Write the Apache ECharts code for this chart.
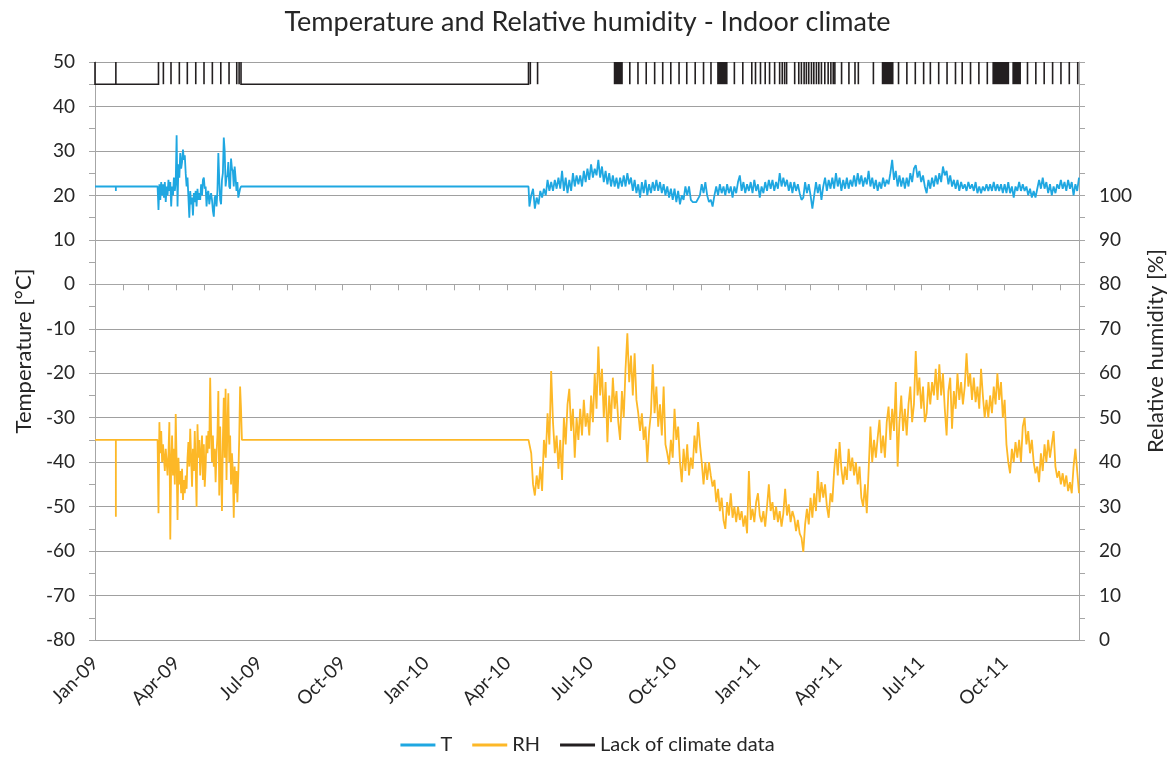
<!DOCTYPE html>
<html><head><meta charset="utf-8">
<script src="https://cdn.jsdelivr.net/npm/echarts@6/dist/echarts.min.js"></script>
<style>html,body{margin:0;padding:0;background:#fff}#c{width:1175px;height:761px}</style>
</head><body><div id="c"></div>
<script>
// ---------- data ----------
const ORIGIN_DATE = '2009-01-01';
const AXIS_END = '2011-12-22';
const xTickLabels = ['Jan-09','Apr-09','Jul-09','Oct-09','Jan-10','Apr-10','Jul-10','Oct-10','Jan-11','Apr-11','Jul-11','Oct-11'];
const xTickDates  = ['2009-01-01','2009-04-01','2009-07-01','2009-10-01','2010-01-01','2010-04-01','2010-07-01','2010-10-01','2011-01-01','2011-04-01','2011-07-01','2011-10-01'];

// constant levels shown where the logger had no data
const T_FILL = 22, RH_FILL = 45;
const DIP_DATE = '2009-01-24', T_DIP = 21, RH_DIP = 27.7;

// segment 1: daily values from 2009-03-12
const SEG1_START = '2009-03-12', SEG1_STEP = 1;
const T_2009 = [16.7,22.5,19,23,20,22.5,19.5,23,18.5,22, 20,23.5,21,23,17.5,22,20,24,21,23,
 33.5,17.5,27,24,29.5,26,27.5,30.3,28,29, 25,22,24,19.5,15,21,18,19.5,15.5,20.5,
 18.5,21,17.5,21.5,19,20.5,19,22.5,20,23.5, 24,21.5,22,17.5,20.5,21,18,19.5,20.5,19,
 16.5,15.2,19.5,20,17.5,21,29.5,23.5,19,18, 23.5,25,33,30,22,24,24.5,27.5,22,21.5,
 28.3,26,25.5,22,26.5,24,21,23,19.5,19.5, 21.5,22];
const RH_2009 = [28.5,49,42,47,40,44,41,38,43,40, 37,42,49,22.6,40,46,37,43,35,50.8,
 40,27,41,35,38,33,38.5,31.5,36,33, 37,34,41,44.5,39,47.5,41,34.5,43,38,
 47,39,30,48.5,41,45,37,42,46,36, 44,34.5,39,46,42,47,43,59,47,40,
 46,39,43,35.5,42,46,56,32.5,48,38, 29,45,54.5,41,56.5,36,48,55.5,40,46,
 35,42,38,27.5,39,33,38,31,37,45, 57,52];

// segment 2: values every 2 days from 2010-04-25
const SEG2_START = '2010-04-25', SEG2_STEP = 2;
const T_1011 = [17.5,20,21.5,17,19.5,18,21,19.5,21.5,20,
 23.5,21,23,21,23.5,21.5,24,21.5,25.5,21, 24,20.5,23.5,21,25,22,24.5,22.5,24.5,22,
 25.5,23,26,23.5,27,24,26,24.5,28,24, 26.5,23,25.5,22.5,25,22,24.5,22,24,21.5,
 24,22,24.5,22,25,22.5,24,21,23.5,20.5, 22.5,19.5,23,20.5,23.5,20,22.5,20.5,23,21,
 23.5,21,23,20.5,22.5,20,22,19.5,21.5,19, 21.5,18.5,21,18,20,19,22,20,22,19,
 18.5,18.5,18.5,18.5,20,22.5,20.5,23,20,18.5, 19,17.5,20,22,20,22.5,20.5,22,20,22.5,
 20.5,22,19.5,22,20.5,23,24.5,21,23,20.5, 22.5,21,23,20.5,23.5,21,22.5,19.5,22,20.5,
 23,21,23.5,21.5,23.5,21,23,21.5,25,22, 24,22,23.5,21,23,20.5,23,21,22.5,20.5,
 19,19.5,23,20.5,22.5,20,17,20,23,20.5, 22.5,19,22,24,21,23.5,21.5,24,21.5,25,
 22,24,21,23.5,21.5,24,21.5,23.5,22,24.5, 22,25,22.5,24.5,22,24,22.5,25.5,22,24,
 21.5,23.5,21,23,21.5,24,22,23.5,22.5,25, 28,23.5,25.5,22,24.5,22,24,21.5,24,22,
 25,23,26,26.8,24,25.5,23,24.5,22,20.5, 23.5,21.5,24,22,24.5,22.5,25,23,26.5,24.5,
 25.5,22.5,24.5,22,23.5,21.5,23.5,21,23,21.5, 22.5,21,23,21.5,22.5,21,23,20.5,22,20.5,
 22,21,22.5,21,22.5,21,23,21,22.5,21, 22.5,20.5,22.5,20.5,23,20.5,22,19.5,22,21,
 23,21,22.5,21,22,20,21.5,19.5,21,19.5, 21.5,23.5,21.5,24,21.5,23,20.5,22.5,20,22,
 20.5,22.5,21.5,23.5,21.5,23,21,23.5,21.5,23, 20,22.5,21,24];
const RH_1011 = [45,42,35,32.5,37,34,39,33.5,45,41,
 51,44,60.5,49,42,46,38.5,45,36,50, 44,53,56.5,47,52,41,50,45,52,46,
 54,48,51,46,55,49,60,52,66,55, 61,50,58,44.5,55,49,59,52,56,49,
 45,56,50,61,69,58,64,55,64.5,54, 51,47,51,45,48,40,47,51,62,51,
 57,48,53,46,57,44,42,39.5,45,41, 52,45,48,40,35.5,43,38,44,37,41,
 38.5,46,42,49,44,40,35,40,36,40, 37,34.5,36,31,34,29,32,27,25,31,
 28,33,27.5,30,26.5,30,27,29,25.5,28, 24,38,27,29.5,26.5,31,33,28,26.5,29,
 25.5,30,35,29,31,27,30,26.5,29,25.5, 28.5,34,28,30.5,26.5,29,27.5,24.5,27,24,
 23,19.8,26,29.5,26,32,27.5,33,29,38, 31,35.5,32,35,30,27.5,33,31,38,43,
 37,44.5,38.5,35,39,36,43,38,41,37, 40,35,39,32,30,35,28.5,38,48,40,
 45,41,45.5,49.5,42,46,41,49,52.5,45, 52,47,58,39,49,55,47,52,46,53,
 57,49,53,65,55,59,52,57,49,51, 58,53,58,55,61,54,62,55,60,52,
 46,56,59,47.5,56,52,60,54,58,53, 57,64.5,57,60,54,59,53.5,57,52,61,
 55,50,54,50,55,51,57,53,60,54, 58,50,54,44,40,37.5,43,40,44.5,41,
 45,40,48,50,44,47,42,45,40,37.5, 39,35.5,42,38,44,40,45,41,44,47,
 39,36.5,38,35,37.5,34.5,37,33.5,35.5,33, 39,43,38,33];

// lack of climate data (days since 2009-01-01)
const GAP_LOW = 45, GAP_HIGH = 50;
const gapSpans = [[0,70],[161,478]];
const gapTicks = [23,75.4,83.8,93,101.8,111.1,120.2,129.4,138.7,147.8,156.3,158.9,480,488,
 589.7,598.7,607.8,617.1,626,634.9,644,652.5,661.8,671,679.2,705,714.3,
 724.2,728.3,733.8,739,743.8,749.4,754.9,757.8,760.4,762.6,
 771.5,776,778.9,781.9,784.4,787,790,792.6,795.5,798.1,801,804.7,808.4,811.4,814,815.8,
 823.2,831.3,838,841.7,858.3,886,895.2,904.5,913.7,921.1,930.3,939.5,948.8,956.2,965.4,974.6,983.9,
 1028.2,1037.4,1046.6,1055.9,1065.1,1074.3,1083.6];
const gapBlocks = [[572,582],[686,697.5],[867.5,880.5],[989.5,1008],[1011.5,1021]];

// ---------- build ----------
const DAY = 86400000;
const originMs = Date.parse(ORIGIN_DATE + 'T00:00:00Z');
const dayOf = s => Math.round((Date.parse(s + 'T00:00:00Z') - originMs) / DAY);
const maxDay = dayOf(AXIS_END);

const labelMap = {};
xTickDates.forEach((d, i) => { labelMap[dayOf(d)] = xTickLabels[i]; });
const quarterDays = xTickDates.map(dayOf);
const monthDays = [];
for (let y = 2009; y <= 2011; y++) for (let m = 0; m < 12; m++) {
  const d = Math.round((Date.UTC(y, m, 1) - originMs) / DAY);
  if (d <= maxDay) monthDays.push(d);
}

function build(fill, dip, seg1, seg2) {
  const pts = [];
  const s1 = dayOf(SEG1_START), s2 = dayOf(SEG2_START), dd = dayOf(DIP_DATE);
  pts.push([0, fill], [dd, fill], [dd, dip], [dd, fill], [s1 - 1, fill]);
  seg1.forEach((v, i) => pts.push([s1 + i * SEG1_STEP, v]));
  const e1 = s1 + (seg1.length - 1) * SEG1_STEP;
  pts.push([e1 + 1, fill], [s2 - 1, fill]);
  seg2.forEach((v, i) => pts.push([s2 + i * SEG2_STEP, v]));
  return pts;
}
const tData = build(T_FILL, T_DIP, T_2009, T_1011);
const rhData = build(RH_FILL, RH_DIP, RH_2009, RH_1011);
const gapData = gapSpans.map(s => [s[0], s[1], 0])
  .concat(gapTicks.map(d => [d, d, 1]))
  .concat(gapBlocks.map(b => [b[0], b[1], 1]));

const FONT = 'Lato';
const TXT = '#262626';
const AX = '#a6a6a6';

const chart = echarts.init(document.getElementById('c'));
chart.setOption({
  animation: false,
  color: ['#1fa7e1', '#fdb827', '#231f20'],
  textStyle: { fontFamily: FONT },
  title: {
    text: 'Temperature and Relative humidity - Indoor climate',
    left: 'center', top: 4,
    textStyle: { fontSize: 27, fontWeight: 'normal', color: TXT, fontFamily: FONT }
  },
  legend: {
    bottom: 1, left: 'center', icon: 'rect', itemWidth: 35, itemHeight: 3, itemGap: 20,
    textStyle: { fontSize: 20, color: TXT, fontFamily: FONT },
    data: ['T', 'RH', 'Lack of climate data']
  },
  grid: { left: 95, right: 95, top: 62, bottom: 121 },
  xAxis: {
    type: 'value', min: 0, max: maxDay,
    axisLine: { show: true, lineStyle: { color: AX } },
    axisTick: { show: true, customValues: monthDays, length: 6, lineStyle: { color: AX } },
    axisLabel: { customValues: quarterDays, formatter: v => labelMap[Math.round(v)] || '', rotate: 45,
      fontSize: 19, color: TXT, margin: 20, fontFamily: FONT },
    splitLine: { show: false }
  },
  yAxis: [{
    type: 'value', min: -80, max: 50, interval: 10, position: 'left',
    name: 'Temperature [°C]', nameLocation: 'middle', nameGap: 58, nameRotate: 90,
    nameTextStyle: { fontSize: 22, color: TXT, fontFamily: FONT },
    axisLine: { show: true, lineStyle: { color: AX } },
    axisTick: { show: true, length: 6, lineStyle: { color: AX } },
    minorTick: { show: true, splitNumber: 2, length: 6, lineStyle: { color: AX } },
    axisLabel: { fontSize: 19, color: TXT, margin: 20, fontFamily: FONT },
    splitLine: { show: true, lineStyle: { color: '#a0a0a0', width: 1 } }
  }, {
    type: 'value', min: 0, max: 130, interval: 10, position: 'right',
    name: 'Relative humidity [%]', nameLocation: 'middle', nameGap: 66, nameRotate: 90,
    nameTextStyle: { fontSize: 22, color: TXT, fontFamily: FONT },
    axisLine: { show: true, lineStyle: { color: AX } },
    axisTick: { show: true, length: 6, lineStyle: { color: AX } },
    minorTick: { show: true, splitNumber: 2, length: 6, lineStyle: { color: AX } },
    axisLabel: { fontSize: 19, color: TXT, margin: 20, fontFamily: FONT, formatter: v => (v <= 100 ? String(v) : '') },
    splitLine: { show: false }
  }],
  series: [{
    name: 'T', type: 'line', yAxisIndex: 0, data: tData, showSymbol: false, symbol: 'none',
    lineStyle: { width: 1.8, color: '#1fa7e1' }, itemStyle: { color: '#1fa7e1' }
  }, {
    name: 'RH', type: 'line', yAxisIndex: 1, data: rhData, showSymbol: false, symbol: 'none',
    lineStyle: { width: 1.8, color: '#fdb827' }, itemStyle: { color: '#fdb827' }
  }, {
    name: 'Lack of climate data', type: 'custom', yAxisIndex: 0,
    itemStyle: { color: '#231f20' },
    encode: { x: [0, 1], y: 2 },
    data: gapData,
    renderItem: function (params, api) {
      const s = api.value(0), e = api.value(1), kind = api.value(2);
      const a = api.coord([s, GAP_HIGH]), b = api.coord([e, GAP_LOW]);
      if (kind === 0) {
        return { type: 'polyline', shape: { points: [[a[0], a[1]], [a[0], b[1]], [b[0], b[1]], [b[0], a[1]]] },
          style: { stroke: '#231f20', lineWidth: 1.6, fill: null } };
      }
      const w = Math.max(b[0] - a[0], 1.6);
      return { type: 'rect', shape: { x: (a[0] + b[0]) / 2 - w / 2, y: a[1], width: w, height: b[1] - a[1] },
        style: { fill: '#231f20' } };
    }
  }]
});
</script></body></html>
